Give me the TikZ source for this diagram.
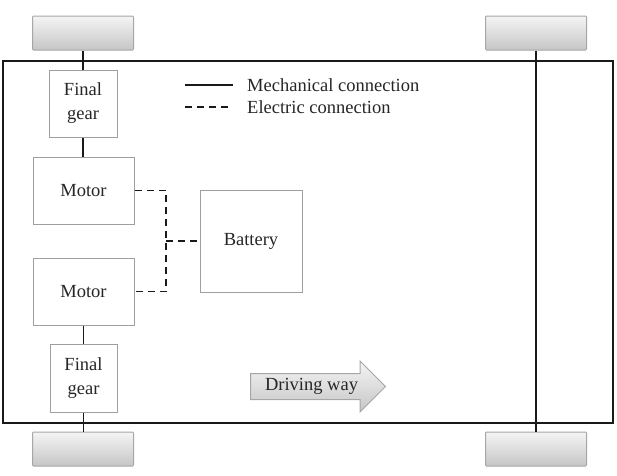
\documentclass[tikz,border=0pt]{standalone}
\usepackage{fontspec}
\setmainfont{Liberation Serif}
\usepackage{tikz}
\usetikzlibrary{shapes,arrows,positioning,calc}

\tikzset{
  wheel/.style={draw=gray!70,line width=1pt,rounded corners=1pt,top color=gray!8,bottom color=gray!45,minimum width=101pt,minimum height=34pt},
  part/.style={draw=gray!75,line width=1pt,fill=white,align=center,text=black!85,font=\fontsize{18.5}{24}\selectfont},
  mech/.style={line width=1.8pt,black!90},
  elec/.style={line width=1.8pt,black!90,dash pattern=on 7pt off 5pt},
}

\begin{document}
\begin{tikzpicture}[x=1pt,y=-1pt]
                \useasboundingbox (0,0) rectangle (617,475);
                % car body
                \draw[mech] (3,61) rectangle (613,423);
                % wheels
                \node[wheel] (wfl) at (83,33) {};
                \node[wheel] (wfr) at (536,33) {};
                \node[wheel] (wrl) at (83,449) {};
                \node[wheel] (wrr) at (536,449) {};
                % drive train
                \node[part,minimum width=68pt,minimum height=67pt] (gear1) at (83,103.5) {Final\\gear};
                \node[part,minimum width=101pt,minimum height=67pt] (mot1) at (83.5,190.5) {Motor};
                \node[part,minimum width=101pt,minimum height=67pt] (mot2) at (83.5,291.5) {Motor};
                \node[part,minimum width=67pt,minimum height=68pt] (gear2) at (83.5,378) {Final\\gear};
                \node[part,minimum width=102pt,minimum height=102pt] (bat) at (251,241) {Battery};
                \draw[mech] (wfl.south) -- (gear1.north);
                \draw[mech] (gear1.south) -- (mot1.north -| gear1.south);
                \draw[mech] (mot2.south -| gear2.north) -- (gear2.north);
                \draw[mech] (gear2.south) -- (wrl.north -| gear2.south);
                \draw[mech] (wfr.south) -- (wrr.north);
                % electric
                \coordinate (j) at (166,241);
                \draw[elec] (mot1.east) -| (j) |- (mot2.east);
                \draw[elec] (j) -- (bat.west);
                % legend
                \coordinate (l1a) at (185,85);
                \coordinate (l1b) at (233,85);
                \coordinate (l2a) at (185,107);
                \coordinate (l2b) at (233,107);
                \draw[mech] (l1a) -- (l1b);
                \draw[elec] (l2a) -- (l2b);
                \node[anchor=west,inner sep=0pt,text=black!85,font=\fontsize{18.5}{24}\selectfont] (t1) at (247,85) {Mechanical connection};
                \node[anchor=west,inner sep=0pt,text=black!85,font=\fontsize{18.5}{24}\selectfont] (t2) at (247,107) {Electric connection};
                % direction
                \node[single arrow,draw=gray!70,line width=1pt,top color=gray!8,bottom color=gray!45,
                      single arrow head extend=12.5pt,single arrow tip angle=90,minimum height=135pt,
                      text height=12pt,text depth=4pt,inner ysep=4.5pt,inner xsep=2pt,anchor=west,
                      text=black!85,font=\fontsize{18.5}{24}\selectfont] (way) at (250,386.5) {Driving way};
            \end{tikzpicture}
\end{document}
